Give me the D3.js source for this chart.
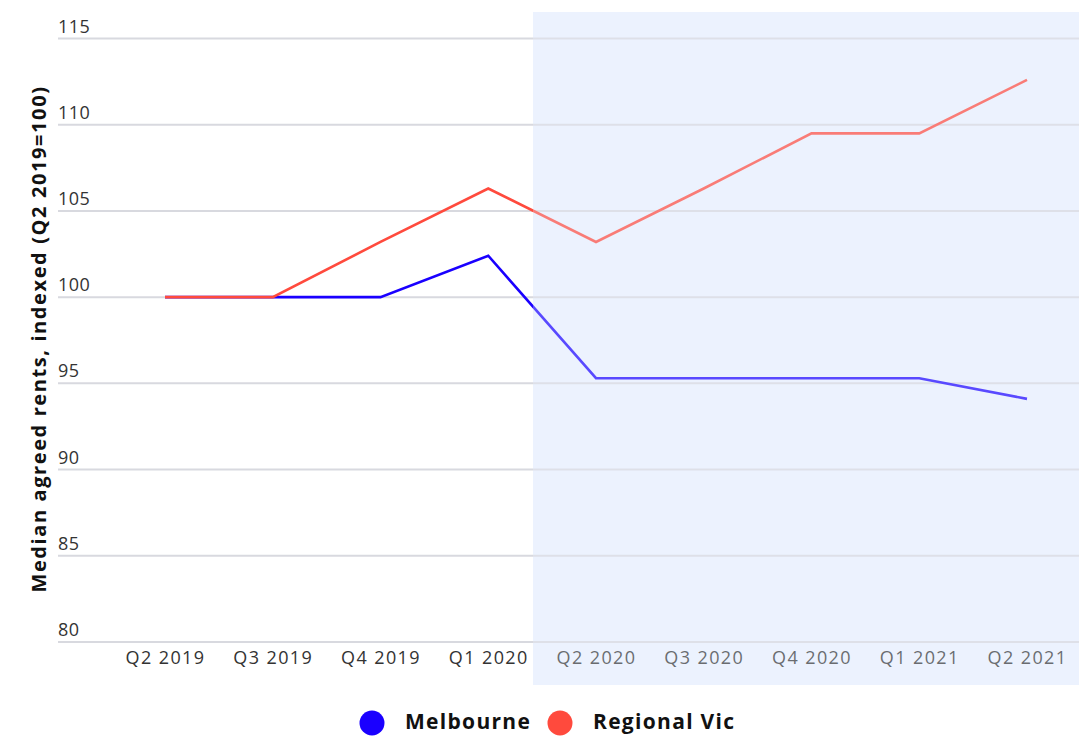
<!DOCTYPE html>
<html><head><meta charset="utf-8">
<script src="https://cdn.jsdelivr.net/npm/d3@7"></script>
<style>
html,body{margin:0;padding:0;background:#fff;}
svg{display:block;font-family:"Open Sans",sans-serif;}
</style></head>
<body>
<svg id="chart" width="1079" height="736"></svg>
<script>
const categories = ["Q2 2019","Q3 2019","Q4 2019","Q1 2020","Q2 2020","Q3 2020","Q4 2020","Q1 2021","Q2 2021"];
const melbourne = [100, 100, 100, 102.4, 95.3, 95.3, 95.3, 95.3, 94.1];
const regionalVic = [100, 100, 103.2, 106.3, 103.2, 106.3, 109.5, 109.5, 112.6];
const yTicks = [80, 85, 90, 95, 100, 105, 110, 115];
const seriesNames = ["Melbourne", "Regional Vic"];
const seriesColors = ["#1A00FF", "#FF4A3D"];
const yTitle = "Median agreed rents, indexed (Q2 2019=100)";

const svg = d3.select("#chart");
const W = 1079;
const x = d3.scalePoint().domain(categories).range([165, 1027]);
const y = d3.scaleLinear().domain([80, 115]).range([642, 38.5]);
const gridLeft = 58;
const shadeX = 533;

// shaded background
svg.append("rect").attr("x", shadeX).attr("y", 12).attr("width", W - shadeX).attr("height", 673)
  .attr("fill", "#ECF3FE");

// gridlines + y tick labels
const gy = svg.append("g");
yTicks.forEach(t => {
  gy.append("line").attr("x1", gridLeft).attr("x2", W).attr("y1", y(t)).attr("y2", y(t))
    .attr("stroke", "#D8D9DF").attr("stroke-width", 2);
  gy.append("text").attr("x", gridLeft).attr("y", y(t) - 6).text(t)
    .attr("font-size", 18).attr("fill", "#333").attr("letter-spacing", 0.5);
});

// x axis labels
const xAxis = d3.axisBottom(x).tickSize(0).tickPadding(0);
const gx = svg.append("g").attr("transform", "translate(0,650)").call(xAxis);
gx.select(".domain").remove();
gx.selectAll("text").attr("font-size", 18).attr("fill", "#333").attr("letter-spacing", 1.4)
  .attr("font-family", "Open Sans").attr("dy", "0.8em");

// lines
const line = d3.line().x((d, i) => x(categories[i])).y(d => y(d));
[melbourne, regionalVic].forEach((s, k) => {
  svg.append("path").datum(s).attr("d", line).attr("fill", "none")
    .attr("stroke", seriesColors[k]).attr("stroke-width", 2.6).attr("stroke-linejoin", "miter");
});

// fade overlay in shaded region
svg.append("rect").attr("x", shadeX).attr("y", 12).attr("width", W - shadeX).attr("height", 673)
  .attr("fill", "#ECF3FE").attr("opacity", 0.3);

// y title
svg.append("text").attr("transform", "translate(46,339) rotate(-90)")
  .attr("text-anchor", "middle").attr("font-weight", 700).attr("font-size", 20)
  .attr("letter-spacing", 1.6).attr("fill", "#111").text(yTitle);

// legend
const legendX = [372, 560];
seriesNames.forEach((n, k) => {
  svg.append("circle").attr("cx", legendX[k]).attr("cy", 723).attr("r", 12.5).attr("fill", seriesColors[k]);
  svg.append("text").attr("x", legendX[k] + 33).attr("y", 729).text(n)
    .attr("font-weight", 700).attr("font-size", 21).attr("letter-spacing", 1.3).attr("fill", "#111");
});
</script>
</body></html>
